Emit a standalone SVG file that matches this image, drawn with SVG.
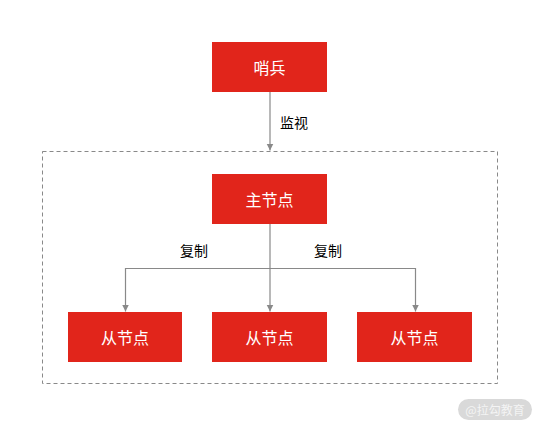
<svg xmlns="http://www.w3.org/2000/svg" width="541" height="427" viewBox="0 0 541 427">
<style>
.node{fill:#e1251b}
.nt{font-family:"Noto Sans CJK SC","Liberation Sans",sans-serif;font-size:16px;fill:#ffffff;text-anchor:middle;dominant-baseline:central}
.lbl{font-family:"Noto Sans CJK SC","Liberation Sans",sans-serif;font-size:14px;fill:#000000;text-anchor:middle;dominant-baseline:central}
.ln{fill:none;stroke:#898989;stroke-width:1.2}
</style>
<defs>
<marker id="arr" markerWidth="8" markerHeight="8" refX="7" refY="4" orient="auto" markerUnits="userSpaceOnUse">
<path d="M0,0.5 L7,4 L0,7.5 Z" fill="#898989"/>
</marker>
</defs>
<rect width="541" height="427" fill="#ffffff"/>
<rect x="42.5" y="151.5" width="455" height="232" fill="none" stroke="#898989" stroke-width="1" stroke-dasharray="4,3"/>
<g id="connectors">
<path class="ln" d="M270,92 V150.5" marker-end="url(#arr)"/>
<path class="ln" d="M270,224 V311.5" marker-end="url(#arr)"/>
<path class="ln" d="M270,268.5 H125.5 V311.5" marker-end="url(#arr)"/>
<path class="ln" d="M270,268.5 H415.5 V311.5" marker-end="url(#arr)"/>
<text class="lbl" x="294" y="122">监视</text>
<text class="lbl" x="194" y="250">复制</text>
<text class="lbl" x="328" y="250">复制</text>
</g>
<g id="sentinel"><rect class="node" x="212" y="42" width="115" height="50"/><text class="nt" x="269.5" y="67">哨兵</text></g>
<g id="master"><rect class="node" x="212" y="174" width="115" height="50"/><text class="nt" x="269.5" y="199">主节点</text></g>
<g id="slave1"><rect class="node" x="68" y="312" width="114" height="50"/><text class="nt" x="125" y="337">从节点</text></g>
<g id="slave2"><rect class="node" x="212" y="312" width="115" height="50"/><text class="nt" x="269.5" y="337">从节点</text></g>
<g id="slave3"><rect class="node" x="357" y="312" width="115" height="50"/><text class="nt" x="414.5" y="337">从节点</text></g>
<g id="watermark"><rect x="458" y="399" width="74" height="21" rx="10.5" fill="#d9d9d9"/><text x="495" y="409.5" font-family="Noto Sans CJK SC,sans-serif" font-size="12" fill="#f4f4f4" text-anchor="middle" dominant-baseline="central">@拉勾教育</text></g>
</svg>
